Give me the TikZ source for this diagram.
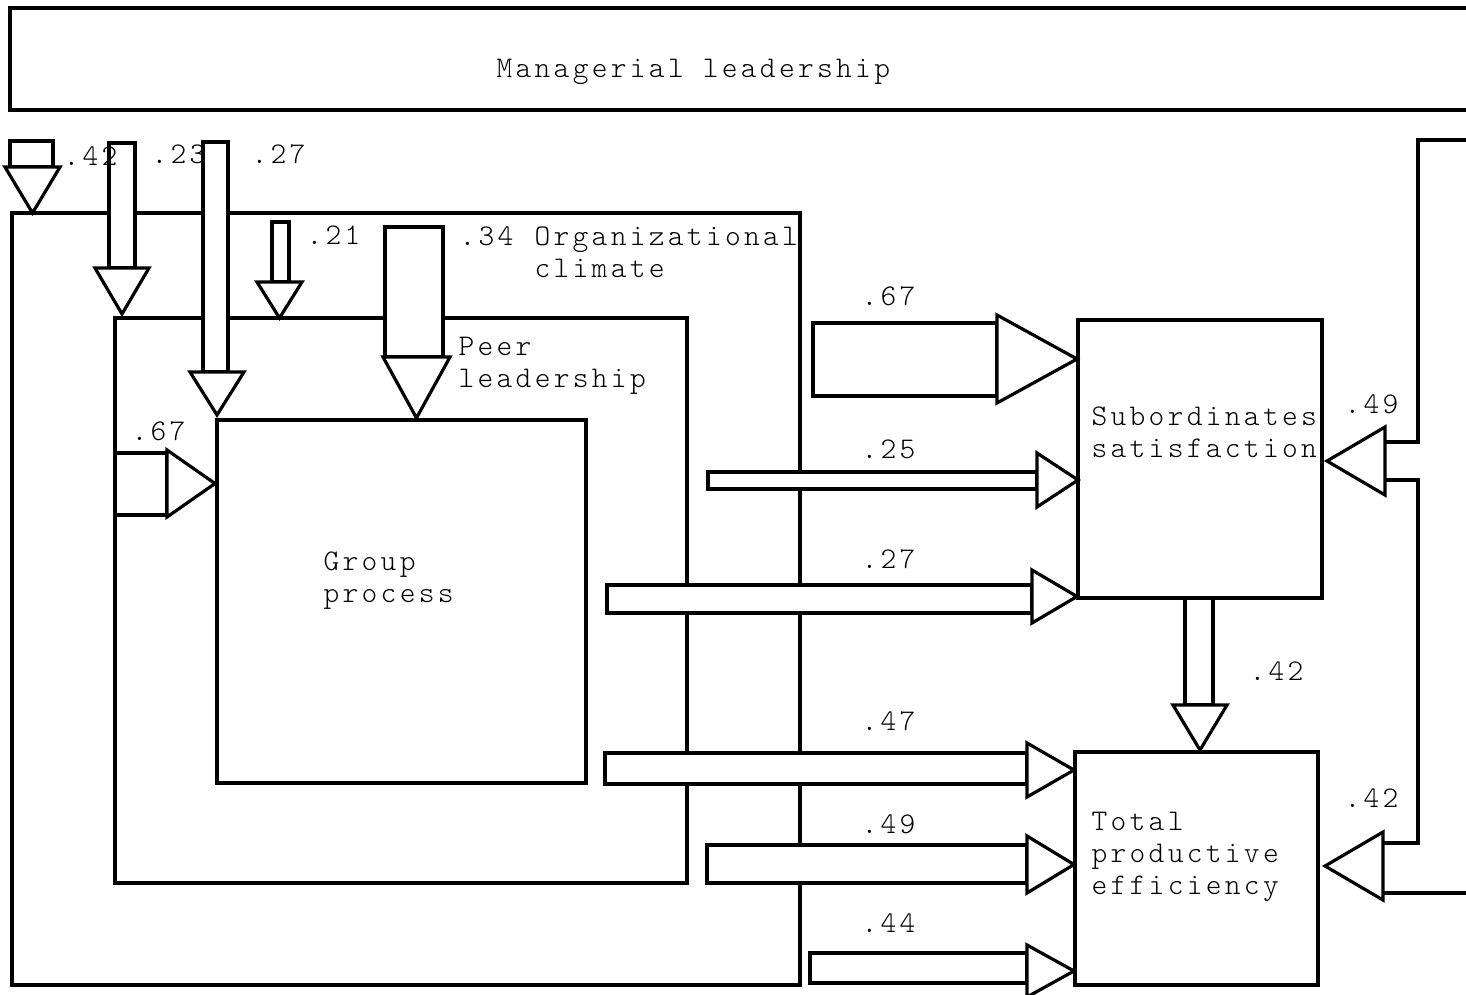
\documentclass[tikz,border=0pt]{standalone}
\usepackage{fontspec}
\newfontfamily\tw[LetterSpace=11]{Latin Modern Mono Light}
% block arrow pointing down: shaft left, shaft right, shaft top, head base y, head left, head right, tip y
\newcommand\downblock[8]{%
  \draw[blk] (#2,#4) rectangle (#3,#5);
  \draw[blk] (#6,#5) -- (#7,#5) -- ({(#6+#7)/2},#8) coordinate (#1) -- cycle;}
% block arrow pointing right: shaft top, shaft bottom, shaft left, head base x, head top, head bottom, tip x
\newcommand\rightblock[8]{%
  \draw[blk] (#4,#2) rectangle (#5,#3);
  \draw[blk] (#5,#6) -- (#5,#7) -- (#8,{(#6+#7)/2}) coordinate (#1) -- cycle;}
\begin{document}
\begin{tikzpicture}[x=0.5pt,y=-0.5pt,
  line width=1.6pt,
  blk/.style={draw, fill=white, line width=1.6pt},
  lbl/.style={inner sep=0pt, anchor=base west, align=left,
    font=\tw\fontsize{15}{16}\selectfont}]
\useasboundingbox (0,0) rectangle (1466,995);

% managerial leadership band (open to the right)
\draw (1470,8) coordinate (mlTR) -- (10,8) -- (10,110) -- (1470,110) coordinate (mlBR);
\node[lbl] (ml) at (495,78) {Managerial leadership};

% nested boxes
\draw (12,213) coordinate (ocNW) rectangle (800,985) coordinate (ocSE);
\draw (115,318) coordinate (plNW) rectangle (687,883) coordinate (plSE);
\draw (217,420) coordinate (gpNW) rectangle (586,783) coordinate (gpSE);
\draw (1078,320) coordinate (ssNW) rectangle (1322,598) coordinate (ssSE);
\draw (1075,752) coordinate (tpNW) rectangle (1318,985) coordinate (tpSE);

% box labels (anchored at the baseline of their last line)
\node[lbl] (oc) at (533,277) {Organizational\\climate};
\node[lbl] (pl) at (457,387) {Peer\\leadership};
\node[lbl] (gp) at (322,602) {Group\\process};
\node[lbl] (ss) at (1090,457) {Subordinates\\satisfaction};
\node[lbl] (tp) at (1090,894) {Total\\productive\\efficiency};

% downward arrows from managerial leadership and climate
\downblock{a42}{10}{53}{141}{167}{5}{60}{213}
\downblock{a23}{109}{135}{143}{268}{95}{149}{314}
\downblock{a27}{203}{228}{142}{372}{190}{244}{415}
\downblock{a21}{272}{289}{222}{282}{257}{302}{318}
\downblock{a34}{385}{443}{227}{357}{383}{450}{418}
\node[lbl] (l42) at (62,165) {.42};
\node[lbl] (l23) at (150,163) {.23};
\node[lbl] (l27) at (250,163) {.27};
\node[lbl] (l21) at (305,244) {.21};
\node[lbl] (l34) at (458,245) {.34};

% peer leadership into group process
\rightblock{b67}{453}{515}{115}{167}{450}{517}{215}
\node[lbl] (lb67) at (130,440) {.67};

% arrows into the outcome boxes
\rightblock{c67}{323}{396}{813}{997}{315}{403}{1077}
\rightblock{c25}{472}{489}{708}{1037}{453}{507}{1078}
\rightblock{c27}{585}{613}{607}{1032}{570}{623}{1077}
\rightblock{c47}{753}{784}{605}{1027}{743}{797}{1074}
\rightblock{c49}{845}{883}{707}{1027}{836}{893}{1074}
\rightblock{c44}{953}{983}{810}{1027}{945}{997}{1074}
\node[lbl] (lc67) at (860,305) {.67};
\node[lbl] (lc25) at (860,458) {.25};
\node[lbl] (lc27) at (860,568) {.27};
\node[lbl] (lc47) at (860,730) {.47};
\node[lbl] (lc49) at (860,833) {.49};
\node[lbl] (lc44) at (860,932) {.44};

% satisfaction into efficiency
\downblock{d42}{1185}{1213}{598}{705}{1173}{1227}{750}
\node[lbl] (ld42) at (1248,680) {.42};

% feedback band from managerial leadership on the right
\draw (1470,140) -- (1418,140) -- (1418,442) -- (1385,442);
\draw (1385,480) -- (1418,480) -- (1418,843) -- (1383,843);
\draw (1383,893) -- (1470,893);
\draw[blk] (1385,427) -- (1385,495) -- (1327,461) coordinate (e49) -- cycle;
\draw[blk] (1383,832) -- (1383,900) -- (1325,866) coordinate (e42) -- cycle;
\node[lbl] (le49) at (1343,413) {.49};
\node[lbl] (le42) at (1343,807) {.42};
\end{tikzpicture}
\end{document}
